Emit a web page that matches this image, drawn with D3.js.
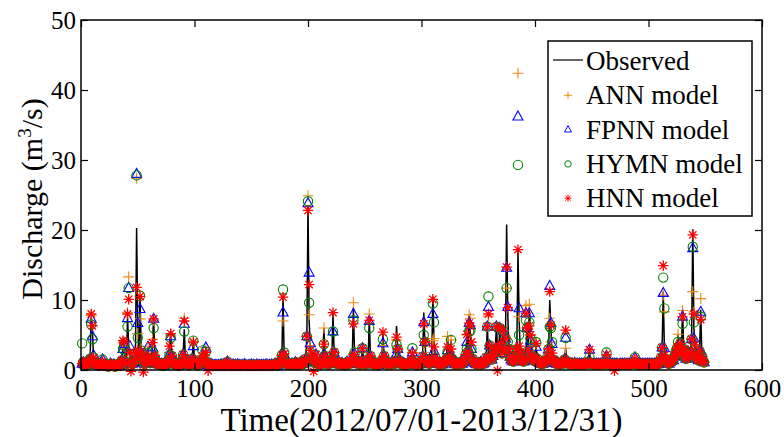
<!DOCTYPE html>
<html>
<head>
<meta charset="utf-8">
<script src="https://cdn.jsdelivr.net/npm/d3@7"></script>
<style>
body { margin: 0; background: #fff; }
text { font-family: "Liberation Serif", "Times New Roman", serif; fill: #000; }
</style>
</head>
<body>
<svg id="chart" width="784" height="437"></svg>
<script>
// ---- data (daily, 2012/07/01 - 2013/12/31, day 1..549) ----
const xTicks = [0, 100, 200, 300, 400, 500, 600];
const yTicks = [0, 10, 20, 30, 40, 50];
const legendNames = ["Observed", "ANN model", "FPNN model", "HYMN model", "HNN model"];

// observed discharge (m3/s), one value per day
const observed = [
  0.9,1.1,0.8,0.7,0.9,1.2,0.8,1.6,7.6,6.0, 1.8,1.0,0.8,0.7,0.9,0.6,0.8,0.9,1.2,0.7,
  0.6,0.8,0.7,0.5,0.6,0.9,0.7,0.6,0.8,0.5, 0.6,0.7,0.9,0.6,1.0,1.4,3.0,4.0,1.2,0.9,
  7.5,3.5,1.6,1.1,0.9,1.0,1.3,2.4,20.3,6.0, 2.2,10.7,3.0,1.5,1.1,0.9,1.2,1.8,3.3,1.4,
  1.0,1.3,4.0,7.5,2.0,1.2,0.9,0.8,1.0,0.7, 0.9,0.8,0.6,0.9,1.1,0.8,1.4,3.5,5.2,2.0,
  1.1,0.9,0.8,1.0,0.7,0.6,0.8,0.9,1.3,2.2, 5.8,1.5,0.9,0.8,0.7,0.9,1.0,1.6,4.2,1.3,
  0.9,0.8,0.7,0.9,1.0,1.2,2.0,1.4,1.1,3.2, 1.2,0.8,0.7,0.6,0.8,0.7,0.6,0.7,0.7,0.6,
  0.7,0.6,0.7,0.8,0.6,0.8,0.6,0.7,1.2,0.6, 0.7,0.6,0.6,0.8,0.6,0.7,0.6,0.8,0.6,0.7,
  0.6,0.7,0.6,0.8,0.7,0.6,0.6,0.7,0.6,0.8, 0.6,0.7,0.6,0.6,0.8,0.6,0.7,0.6,0.7,0.6,
  0.7,0.6,0.8,0.7,0.6,0.7,0.6,0.8,0.6,0.7, 0.9,0.7,0.6,0.8,1.0,1.3,2.1,10.5,2.0,1.1,
  0.9,0.8,1.0,0.7,0.8,0.9,0.7,0.8,1.1,0.9, 0.8,0.7,0.9,1.2,1.0,0.9,1.1,1.6,4.8,23.5,
  7.0,3.5,1.8,1.3,1.1,1.4,2.2,1.2,0.9,1.0, 0.8,0.9,1.4,6.0,2.0,1.1,0.9,0.8,1.0,1.2,
  1.6,8.0,2.5,1.3,1.0,0.9,1.1,0.8,0.9,1.0, 0.8,0.7,0.9,1.1,0.8,0.9,1.0,1.2,1.8,8.9,
  2.5,1.4,1.1,0.9,1.0,0.8,1.2,3.1,1.3,0.9, 0.8,1.0,1.5,7.5,2.0,1.2,0.9,0.8,1.0,0.9,
  0.8,0.7,0.9,1.0,1.4,5.2,2.0,1.2,0.9,0.8, 1.0,0.9,0.8,1.1,1.0,0.9,1.3,6.3,3.0,1.4,
  1.1,0.9,0.8,1.0,0.9,0.7,0.8,1.0,0.9,1.1, 1.3,2.5,1.2,0.9,0.8,0.7,0.9,1.0,0.8,1.2,
  1.9,8.2,4.0,1.6,1.2,1.0,0.9,1.1,1.5,10.5, 4.5,1.8,1.2,1.0,0.9,0.8,1.0,0.9,0.8,1.1,
  1.3,1.6,4.8,1.8,1.5,4.3,1.6,1.1,0.9,0.8, 1.0,0.9,0.8,1.0,1.2,0.9,1.1,1.4,2.2,5.0,
  2.6,7.9,5.0,3.0,1.6,1.2,1.0,0.9,0.8,1.0, 0.9,1.1,0.8,0.9,1.0,1.2,1.8,6.2,2.4,3.5,
  1.8,1.5,2.0,2.6,3.0,6.2,3.1,2.7,6.0,2.9, 2.4,5.6,3.2,4.5,20.8,8.0,3.0,1.9,1.5,1.3,
  1.2,1.4,1.8,3.0,17.0,7.5,2.5,1.6,1.3,1.2, 1.5,2.4,6.0,2.8,8.6,5.0,2.1,1.5,1.3,1.8,
  3.5,1.6,1.2,1.0,0.9,1.1,0.9,1.0,1.2,1.4, 1.9,3.0,10.0,6.0,2.4,1.5,1.2,1.0,0.9,1.1,
  0.9,0.8,1.0,0.9,1.1,1.5,3.1,1.3,1.0,0.9, 0.8,0.9,0.9,0.8,1.0,0.8,0.9,0.8,0.9,0.8,
  0.9,0.8,0.9,0.8,0.9,0.9,1.2,2.9,1.0,0.9, 0.8,0.9,0.8,0.9,0.8,0.9,0.8,0.9,0.9,0.8,
  0.9,0.9,2.0,0.9,0.8,0.9,0.8,0.9,0.8,0.9, 0.8,0.9,0.8,0.8,0.9,0.8,0.9,0.8,0.9,0.8,
  0.9,0.8,0.9,0.8,0.9,0.9,1.0,1.6,0.9,0.8, 0.9,0.8,0.9,0.8,0.9,0.8,0.9,0.8,0.9,0.8,
  0.9,0.8,0.9,0.8,0.9,0.8,0.9,0.8,0.9,1.3, 1.8,3.2,11.2,3.0,1.6,1.2,1.0,0.9,1.1,1.3,
  1.6,1.4,2.0,2.6,3.1,5.1,2.4,3.8,2.8,8.7, 3.0,1.9,1.6,2.2,2.6,1.8,2.5,4.4,20.1,6.0,
  3.0,2.1,1.6,1.4,2.7,8.6,2.0,1.3,1.1
];

// model outputs [day, value]; on days not listed the model follows the observed low flow
const annPts = [
  [8,1.9],[9,7.8],[10,6.4],[37,3.9],[38,3.0],[41,8.2],[42,13.3],[49,27.4],[50,5.2],[52,7.3],
  [53,3.0],[63,4.4],[64,7.1],[78,2.5],[79,5.0],[91,7.4],[99,4.1],[178,7.0],[200,24.9],[201,7.9],
  [222,2.6],[240,9.6],[254,8.0],[266,3.5],[278,4.3],[302,2.5],[310,4.2],[342,7.9],[343,7.4],[344,3.5],
  [359,7.7],[375,11.7],[376,3.0],[385,42.4],[386,7.6],[392,9.2],[395,9.4],[413,7.4],[414,4.0],
  [513,10.7],[514,8.3],[530,8.5],[539,11.2],[540,8.3],[546,10.2]
];
const fpnnPts = [
  [9,7.3],[10,4.8],[11,2.1],[19,1.5],[37,3.0],[38,3.7],[41,7.4],[42,11.7],[43,3.4],[49,28.0],
  [50,6.7],[52,8.7],[53,2.5],[63,3.2],[64,7.3],[78,2.3],[79,4.8],[91,6.6],[99,3.4],[107,1.9],
  [178,8.2],[179,2.2],[200,23.8],[201,13.9],[202,3.8],[214,2.2],[222,5.5],[240,8.0],[241,2.3],[254,7.0],
  [266,3.8],[278,2.3],[302,6.8],[310,8.0],[311,2.7],[323,2.8],[326,2.2],[340,4.0],[342,6.7],[343,6.4],
  [359,9.0],[375,14.6],[376,9.0],[385,36.2],[386,8.8],[392,8.1],[395,8.1],[396,4.2],[401,3.3],
  [413,12.0],[414,6.7],[415,3.7],[427,4.6],[488,1.8],[513,11.0],[514,3.1],[526,3.0],[530,7.6],
  [539,17.4],[540,4.5],[541,2.5],[546,8.3],[547,2.4]
];
const hymnPts = [
  [1,3.8],[9,6.5],[10,4.4],[19,1.5],[38,3.5],[41,6.2],[42,11.7],[43,2.2],[49,27.8],[50,4.6],
  [52,10.6],[53,2.8],[59,2.4],[63,2.6],[64,6.0],[65,1.8],[78,2.2],[79,4.6],[91,5.5],[99,4.2],
  [107,2.8],[110,2.6],[178,11.5],[179,2.5],[200,24.1],[201,9.6],[202,2.5],[214,3.7],[222,5.5],[240,7.1],
  [254,6.0],[266,4.4],[278,3.6],[292,3.1],[302,5.0],[310,9.5],[311,6.8],[323,2.6],[340,3.0],[342,5.5],
  [343,5.6],[359,10.5],[375,11.7],[376,4.0],[385,29.3],[386,5.0],[392,7.1],[395,6.8],[396,4.5],[401,4.0],
  [413,6.2],[414,6.0],[415,4.0],[427,4.6],[448,1.8],[463,2.5],[488,1.8],[513,13.2],[514,8.8],[526,4.0],
  [530,6.6],[539,17.6],[540,6.8],[546,7.6]
];
const hnnPts = [
  [9,8.0],[10,6.3],[11,1.8],[37,4.2],[38,4.0],[41,8.0],[42,10.1],[43,2.5],[44,-0.2],[49,11.8],
  [50,2.8],[52,10.5],[53,2.6],[55,-0.3],[59,2.0],[63,3.9],[64,7.3],[65,2.1],[78,3.4],[79,5.2],
  [91,7.0],[99,4.0],[110,2.5],[112,-0.1],[178,10.4],[179,2.3],[200,22.8],[201,12.2],[202,2.8],[205,-0.2],
  [214,3.7],[222,8.2],[240,6.6],[241,2.2],[254,7.1],[266,5.4],[278,4.7],[292,2.4],[302,6.6],[310,10.1],
  [311,3.3],[323,3.3],[326,3.0],[340,5.1],[342,6.7],[343,6.3],[344,4.0],[359,8.0],[367,-0.1],[368,3.4],
  [370,3.8],[373,2.9],[375,14.7],[376,8.9],[385,17.2],[386,3.4],[392,8.1],[395,6.3],[401,3.8],[413,11.2],
  [414,6.4],[427,5.7],[463,2.2],[470,-0.1],[513,14.9],[514,2.1],[526,3.3],[530,7.6],[539,19.3],[540,8.0],
  [541,3.6],[546,7.2],[547,1.8]
];

// ---- layout ----
const svg = d3.select("#chart");
const plotL = 81, plotR = 762, plotT = 20, plotB = 370;
const x = d3.scaleLinear().domain([0, 600]).range([plotL, plotR]);
const y = d3.scaleLinear().domain([0, 50]).range([plotB, plotT]);
const font = "'Liberation Serif', 'Times New Roman', serif";

function modelSeries(pts) {
  const m = new Map(pts);
  return observed.map((v, i) => ({ day: i + 1, value: m.has(i + 1) ? m.get(i + 1) : v }));
}

const obsData = observed.map((v, i) => ({ day: i + 1, value: v }));

const shapes = {
  plus: "M-5.5,0H5.5M0,-5.5V5.5",
  tri: "M0,-5.6L5,3.4L-5,3.4Z",
  circ: d3.symbol().type(d3.symbolCircle).size(68)(),
  star: "M-5.2,0H5.2M0,-5.2V5.2M-3.7,-3.7L3.7,3.7M-3.7,3.7L3.7,-3.7"
};
const models = [
  { pts: annPts, shape: "plus", color: "#f08a1a" },
  { pts: fpnnPts, shape: "tri", color: "#0000ff" },
  { pts: hymnPts, shape: "circ", color: "#008000" },
  { pts: hnnPts, shape: "star", color: "#ff0000" }
];

// observed line
svg.append("path")
  .datum(obsData)
  .attr("fill", "none")
  .attr("stroke", "#000")
  .attr("stroke-width", 1.5)
  .attr("d", d3.line().x(d => x(d.day)).y(d => y(d.value)));

// model markers
models.forEach(m => {
  svg.append("g").selectAll("path")
    .data(modelSeries(m.pts))
    .enter().append("path")
    .attr("d", shapes[m.shape])
    .attr("transform", d => "translate(" + x(d.day) + "," + y(d.value) + ")")
    .attr("fill", "none")
    .attr("stroke", m.color)
    .attr("stroke-width", m.shape === "star" ? 1.3 : 1.1);
});

// axes, ticks pointing inward on all four sides
function styleAxis(g) {
  g.select(".domain").remove();
  g.selectAll("line").attr("stroke", "#000").attr("stroke-width", 1.2);
  g.attr("font-family", font).attr("font-size", 25);
}
svg.append("g")
  .attr("transform", "translate(0," + plotB + ")")
  .call(d3.axisBottom(x).tickValues(xTicks).tickSizeInner(-7).tickSizeOuter(0).tickPadding(9))
  .call(styleAxis);
svg.append("g")
  .attr("transform", "translate(" + plotL + ",0)")
  .call(d3.axisLeft(y).tickValues(yTicks).tickSizeInner(-7).tickSizeOuter(0).tickPadding(5))
  .call(styleAxis);
svg.append("g")
  .attr("transform", "translate(0," + plotT + ")")
  .call(d3.axisTop(x).tickValues(xTicks).tickSizeInner(-7).tickSizeOuter(0).tickFormat(""))
  .call(styleAxis);
svg.append("g")
  .attr("transform", "translate(" + plotR + ",0)")
  .call(d3.axisRight(y).tickValues(yTicks).tickSizeInner(-7).tickSizeOuter(0).tickFormat(""))
  .call(styleAxis);

svg.append("rect")
  .attr("x", plotL).attr("y", plotT)
  .attr("width", plotR - plotL).attr("height", plotB - plotT)
  .attr("fill", "none").attr("stroke", "#000").attr("stroke-width", 1.5);

// axis titles
svg.append("text")
  .attr("x", (plotL + plotR) / 2).attr("y", 431)
  .attr("text-anchor", "middle")
  .attr("font-size", 33)
  .text("Time(2012/07/01-2013/12/31)");

const yl = svg.append("text")
  .attr("transform", "translate(42," + 199 + ") rotate(-90)")
  .attr("text-anchor", "middle")
  .attr("font-size", 30);
yl.append("tspan").text("Discharge (m");
yl.append("tspan").attr("font-size", 19).attr("dy", -11).text("3");
yl.append("tspan").attr("dy", 11).text("/s)");

// legend
const lg = svg.append("g");
lg.append("rect")
  .attr("x", 548).attr("y", 41).attr("width", 204).attr("height", 175)
  .attr("fill", "#fff").attr("stroke", "#000").attr("stroke-width", 1.5);

legendNames.forEach((name, i) => {
  const base = 70 + i * 34.3;
  if (i === 0) {
    lg.append("line")
      .attr("x1", 553).attr("x2", 583)
      .attr("y1", base - 10).attr("y2", base - 10)
      .attr("stroke", "#000").attr("stroke-width", 1.2);
  } else {
    const m = models[i - 1];
    lg.append("path")
      .attr("d", shapes[m.shape])
      .attr("transform", "translate(568," + (base - 9) + ") scale(0.7)")
      .attr("fill", "none").attr("stroke", m.color).attr("stroke-width", 1.4);
  }
  lg.append("text")
    .attr("x", 586).attr("y", base)
    .attr("font-size", 27)
    .text(name);
});
</script>
</body>
</html>
